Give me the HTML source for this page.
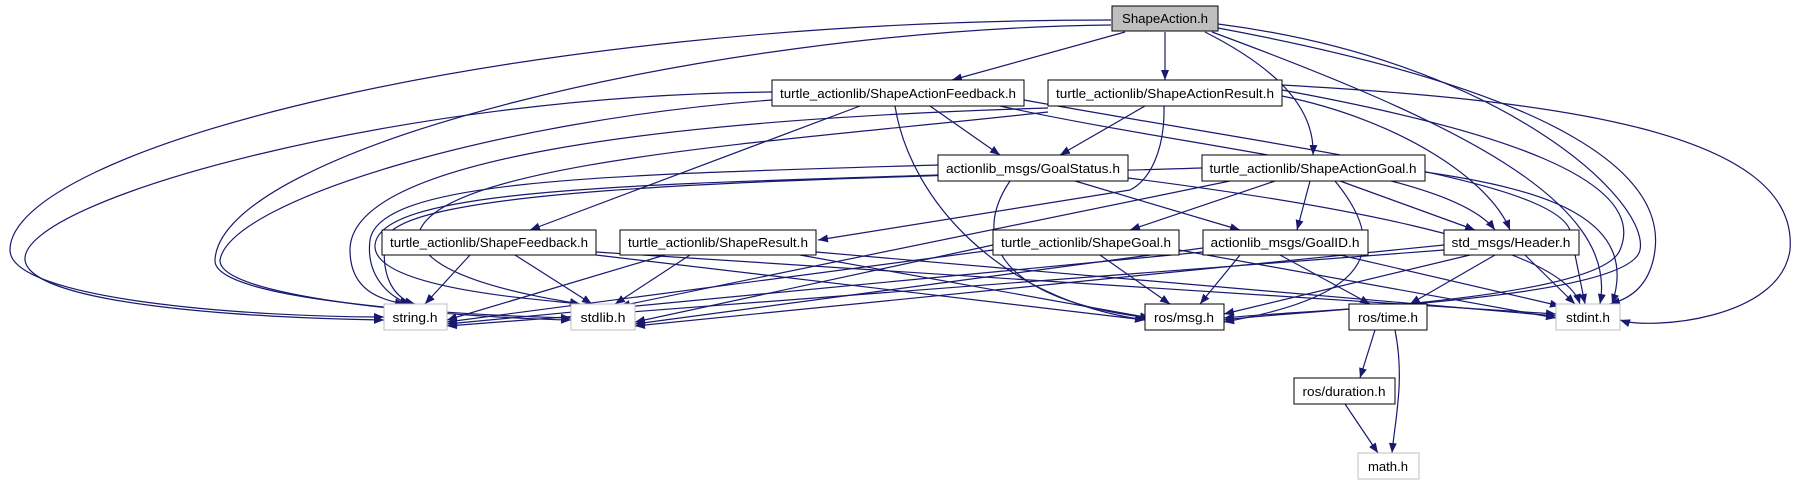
<!DOCTYPE html>
<html><head><meta charset="utf-8"><style>
html,body{margin:0;padding:0;background:#fff;}
svg{display:block;}
text{font-family:"Liberation Sans",sans-serif;font-size:13px;fill:#000;}
.e{fill:none;stroke:#191970;stroke-width:1.2;marker-end:url(#a);}
.n{fill:#fff;stroke:#000;stroke-width:1;}
.g{fill:#fff;stroke:#bfbfbf;stroke-width:1;}
</style></head><body>
<svg width="1815" height="485" viewBox="0 0 1815 485" xmlns="http://www.w3.org/2000/svg">
<defs><marker id="a" markerUnits="userSpaceOnUse" markerWidth="11" markerHeight="9" refX="10" refY="4" orient="auto"><path d="M0,0 L10,4 L0,8 z" fill="#191970"/></marker></defs>
<g>
<!-- ShapeAction edges -->
<path class="e" d="M1111,20 C500,20 10,150 10,250 C10,300 250,317 384,317"/>
<path class="e" d="M1111,25 C700,30 220,150 215,260 C212,300 450,315 571,318"/>
<path class="e" d="M1125,32 L952,80"/>
<path class="e" d="M1165,32 L1165,80"/>
<path class="e" d="M1205,32 C1280,70 1315,110 1313,155"/>
<path class="e" d="M1218,24 C1500,60 1650,200 1640,250 C1630,300 1300,310 1224,318"/>
<path class="e" d="M1218,28 C1550,90 1665,170 1655,250 C1650,290 1625,300 1610,304"/>
<path class="e" d="M1212,32 C1450,120 1620,200 1600,304"/>
<!-- Feedback -->
<path class="e" d="M772,92 C400,95 20,200 25,260 C30,305 250,318 384,320"/>
<path class="e" d="M772,100 C500,120 230,200 220,260 C218,300 470,318 571,320"/>
<path class="e" d="M930,106 L1000,155"/>
<path class="e" d="M860,106 L530,230"/>
<path class="e" d="M895,106 C910,200 1000,300 1145,320"/>
<path class="e" d="M1000,106 C1200,150 1450,170 1495,230"/>
<path class="e" d="M1024,100 C1300,150 1550,180 1570,230 L1585,304"/>
<!-- ActionResult -->
<path class="e" d="M1145,106 L1060,155"/>
<path class="e" d="M1164,106 C1165,150 1150,180 1130,190 L818,240"/>
<path class="e" d="M1048,108 C650,120 350,160 350,250 C350,290 380,300 405,304"/>
<path class="e" d="M1048,112 C800,140 450,160 420,230 C410,280 560,300 580,304"/>
<path class="e" d="M1282,90 C1500,130 1650,180 1620,250 C1600,300 1300,310 1224,320"/>
<path class="e" d="M1282,96 C1400,120 1490,180 1510,230"/>
<path class="e" d="M1282,85 C1550,100 1800,130 1790,250 C1780,320 1650,330 1620,320"/>
<!-- GoalStatus -->
<path class="e" d="M938,165 C600,175 380,180 370,240 C365,280 395,300 410,304"/>
<path class="e" d="M938,175 C620,185 380,190 375,245 C372,290 550,300 580,304"/>
<path class="e" d="M1010,181 C970,240 1000,300 1150,318"/>
<path class="e" d="M1075,181 L1240,230"/>
<path class="e" d="M1128,178 C1300,200 1560,240 1580,304"/>
<!-- ActionGoal -->
<path class="e" d="M1202,168 C800,180 400,185 385,240 C380,285 400,300 415,304"/>
<path class="e" d="M1230,181 L620,306"/>
<path class="e" d="M1275,181 L1130,230"/>
<path class="e" d="M1310,181 L1297,230"/>
<path class="e" d="M1340,181 L1475,230"/>
<path class="e" d="M1335,181 C1400,260 1350,300 1224,322"/>
<path class="e" d="M1425,172 C1550,190 1640,220 1612,304"/>
<!-- Level 3 -->
<path class="e" d="M470,255 L425,304"/>
<path class="e" d="M515,255 L592,304"/>
<path class="e" d="M596,255 L1145,320"/>
<path class="e" d="M596,252 L1556,314"/>
<path class="e" d="M665,255 L447,320"/>
<path class="e" d="M690,255 L615,304"/>
<path class="e" d="M800,255 L1150,318"/>
<path class="e" d="M816,252 L1556,316"/>
<path class="e" d="M993,250 L447,322"/>
<path class="e" d="M993,245 L635,322"/>
<path class="e" d="M1100,255 L1170,304"/>
<path class="e" d="M1179,250 L1556,318"/>
<path class="e" d="M1203,252 L447,324"/>
<path class="e" d="M1203,248 L635,324"/>
<path class="e" d="M1240,255 L1200,304"/>
<path class="e" d="M1280,255 L1370,304"/>
<path class="e" d="M1340,255 L1560,306"/>
<path class="e" d="M1444,250 L447,326"/>
<path class="e" d="M1444,245 L635,326"/>
<path class="e" d="M1470,255 L1224,314"/>
<path class="e" d="M1495,255 L1410,304"/>
<path class="e" d="M1525,255 L1575,304"/>
<path class="e" d="M1375,330 L1360,378"/>
<path class="e" d="M1395,330 C1405,380 1395,420 1392,453"/>
<path class="e" d="M1345,404 L1378,453"/>
</g>
<!-- Nodes -->
<rect x="1112" y="6" width="106" height="25" fill="#bfbfbf" stroke="#000"/>
<text x="1165" y="23" text-anchor="middle" textLength="86" lengthAdjust="spacingAndGlyphs">ShapeAction.h</text>

<rect class="n" x="772" y="80" width="252" height="26"/>
<text x="898" y="98" text-anchor="middle" textLength="236" lengthAdjust="spacingAndGlyphs">turtle_actionlib/ShapeActionFeedback.h</text>
<rect class="n" x="1048" y="80" width="234" height="26"/>
<text x="1165" y="98" text-anchor="middle" textLength="218" lengthAdjust="spacingAndGlyphs">turtle_actionlib/ShapeActionResult.h</text>

<rect class="n" x="938" y="155" width="190" height="26"/>
<text x="1033" y="173" text-anchor="middle" textLength="174" lengthAdjust="spacingAndGlyphs">actionlib_msgs/GoalStatus.h</text>
<rect class="n" x="1202" y="155" width="223" height="26"/>
<text x="1313" y="173" text-anchor="middle" textLength="207" lengthAdjust="spacingAndGlyphs">turtle_actionlib/ShapeActionGoal.h</text>

<rect class="n" x="382" y="230" width="214" height="25"/>
<text x="489" y="247" text-anchor="middle" textLength="198" lengthAdjust="spacingAndGlyphs">turtle_actionlib/ShapeFeedback.h</text>
<rect class="n" x="620" y="230" width="196" height="25"/>
<text x="718" y="247" text-anchor="middle" textLength="180" lengthAdjust="spacingAndGlyphs">turtle_actionlib/ShapeResult.h</text>
<rect class="n" x="993" y="230" width="186" height="25"/>
<text x="1086" y="247" text-anchor="middle" textLength="170" lengthAdjust="spacingAndGlyphs">turtle_actionlib/ShapeGoal.h</text>
<rect class="n" x="1203" y="230" width="165" height="25"/>
<text x="1285" y="247" text-anchor="middle" textLength="149" lengthAdjust="spacingAndGlyphs">actionlib_msgs/GoalID.h</text>
<rect class="n" x="1444" y="230" width="135" height="25"/>
<text x="1511" y="247" text-anchor="middle" textLength="119" lengthAdjust="spacingAndGlyphs">std_msgs/Header.h</text>

<rect class="g" x="384" y="304" width="63" height="26"/>
<text x="415" y="322" text-anchor="middle" textLength="45" lengthAdjust="spacingAndGlyphs">string.h</text>
<rect class="g" x="571" y="304" width="64" height="26"/>
<text x="603" y="322" text-anchor="middle" textLength="45" lengthAdjust="spacingAndGlyphs">stdlib.h</text>
<rect class="n" x="1145" y="304" width="79" height="26"/>
<text x="1184" y="322" text-anchor="middle" textLength="60" lengthAdjust="spacingAndGlyphs">ros/msg.h</text>
<rect class="n" x="1349" y="304" width="78" height="26"/>
<text x="1388" y="322" text-anchor="middle" textLength="60" lengthAdjust="spacingAndGlyphs">ros/time.h</text>
<rect class="g" x="1556" y="304" width="64" height="26"/>
<text x="1588" y="322" text-anchor="middle" textLength="44" lengthAdjust="spacingAndGlyphs">stdint.h</text>
<rect class="n" x="1294" y="378" width="101" height="26"/>
<text x="1344" y="396" text-anchor="middle" textLength="83" lengthAdjust="spacingAndGlyphs">ros/duration.h</text>
<rect class="g" x="1358" y="453" width="61" height="26"/>
<text x="1388" y="471" text-anchor="middle" textLength="40" lengthAdjust="spacingAndGlyphs">math.h</text>
</svg>
</body></html>
